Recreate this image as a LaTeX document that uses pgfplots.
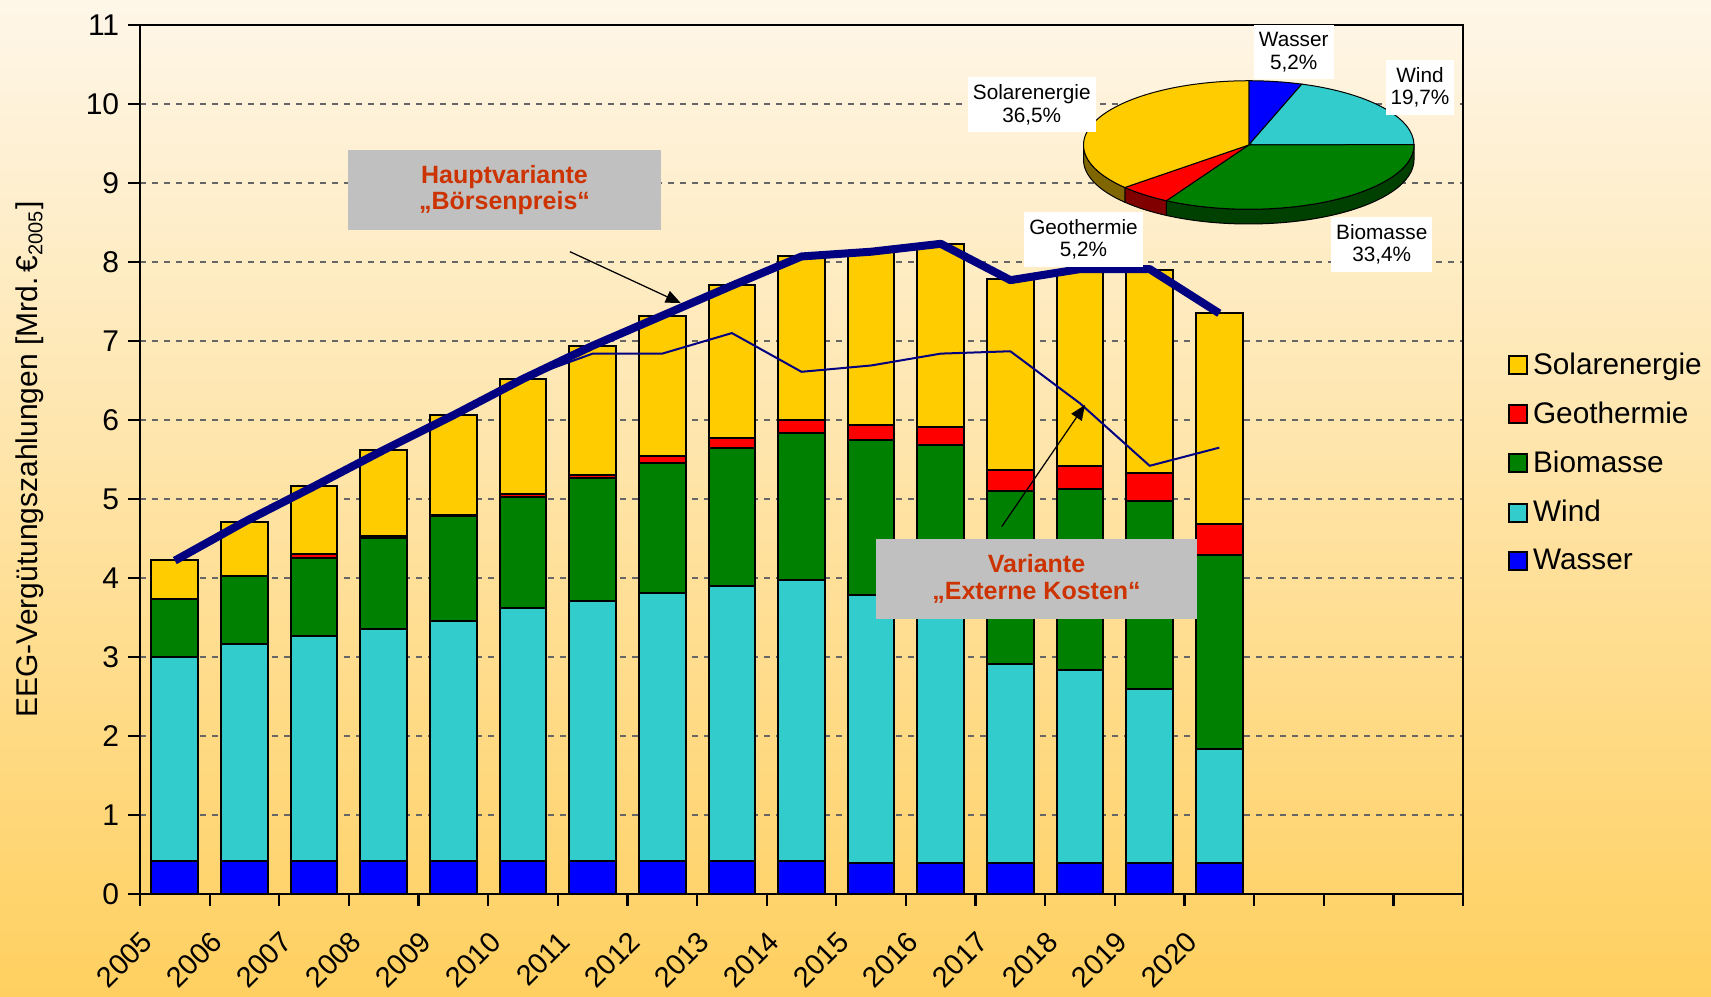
\documentclass[border=0pt]{standalone}
\usepackage{fontspec}
\setmainfont{Liberation Sans}
\usepackage{pgfplots}
\pgfplotsset{compat=1.18}
\usepackage{pgfplotstable}
\usetikzlibrary{arrows.meta}

\definecolor{solar}{RGB}{255,204,0}
\definecolor{geo}{RGB}{255,0,0}
\definecolor{bio}{RGB}{0,128,0}
\definecolor{wind}{RGB}{51,204,204}
\definecolor{wasser}{RGB}{0,0,255}
\definecolor{navyline}{RGB}{0,0,128}
\definecolor{annot}{RGB}{204,51,0}
\definecolor{boxgray}{RGB}{192,192,192}
\definecolor{bgtop}{RGB}{254,246,232}
\definecolor{bgbottom}{RGB}{255,208,96}

% EEG-Verguetung je Sparte, Mrd. EUR (2005), Balken in der Mitte jedes Jahres
\pgfplotstableread{
x     wasser wind  bio   geo   solar
0.5   0.42   2.58  0.74  0.00  0.49
1.5   0.42   2.74  0.87  0.00  0.68
2.5   0.42   2.85  0.98  0.05  0.86
3.5   0.42   2.93  1.16  0.02  1.09
4.5   0.42   3.03  1.33  0.02  1.26
5.5   0.42   3.20  1.41  0.03  1.46
6.5   0.42   3.29  1.55  0.05  1.63
7.5   0.42   3.39  1.64  0.09  1.78
8.5   0.42   3.48  1.74  0.13  1.94
9.5   0.42   3.55  1.87  0.16  2.07
10.5  0.39   3.39  1.97  0.19  2.19
11.5  0.39   3.26  2.03  0.23  2.32
12.5  0.39   2.52  2.19  0.27  2.41
13.5  0.39   2.45  2.29  0.29  2.48
14.5  0.39   2.20  2.38  0.36  2.57
15.5  0.39   1.45  2.45  0.39  2.67
}\eeg

% Hauptvariante "Boersenpreis"
\pgfplotstableread{
x     y
0.5   4.22
1.5   4.71
2.5   5.16
3.5   5.62
4.5   6.06
5.5   6.52
6.5   6.94
7.5   7.32
8.5   7.70
9.5   8.07
10.5  8.13
11.5  8.23
12.5  7.77
13.5  7.91
14.5  7.91
15.5  7.35
}\boerse

% Variante "Externe Kosten"
\pgfplotstableread{
x     y
5.5   6.52
6.5   6.84
7.5   6.84
8.5   7.10
9.5   6.61
10.5  6.69
11.5  6.84
12.5  6.87
13.5  6.21
14.5  5.42
15.5  5.65
}\extern

\pgfplotsset{
  mybar/.style={fill=#1, draw=black, line width=0.8pt,
    legend image code/.code={\draw[fill=#1, draw=black, line width=0.8pt] (0pt,-3.6pt) rectangle (7.2pt,3.6pt);}},
  frame/.style={at={(56pt,40.8pt)}, anchor=south west, scale only axis,
    width=529.2pt, height=347.6pt, xmin=0, xmax=19, ymin=0, ymax=11,
    enlargelimits=false},
}

\begin{document}
\begin{tikzpicture}
\shade[top color=bgtop, bottom color=bgbottom] (0,0) rectangle (684.4pt,398.4pt);
\path[use as bounding box] (0,0) rectangle (684.4pt,398.4pt);

\begin{axis}[
  frame,
  ybar stacked, bar width=0.67,
  xtick={0,...,19},
  xticklabels={2005,2006,2007,2008,2009,2010,2011,2012,2013,2014,2015,2016,2017,2018,2019,2020,,,,},
  ytick={0,...,11},
  tick align=outside, tick pos=left,
  major tick length=4.8pt,
  tick style={black, line width=0.9pt},
  axis line style={black, line width=0.9pt},
  ymajorgrids,
  grid style={dash pattern=on 2.4pt off 2.4pt, color=black!60, line width=0.6pt},
  /pgf/number format/assume math mode=true,
  tick label style={font=\fontsize{12}{14}\selectfont},
  xticklabel style={font=\fontsize{11.5}{13}\selectfont, yshift=-8.5pt, rotate=45, anchor=north east, inner sep=0.5pt},
  ylabel={EEG-Vergütungszahlungen [Mrd.\,€\textsubscript{2005}]},
  ylabel style={font=\fontsize{12}{14}\selectfont, at={(axis description cs:-0.083,0.5)}, anchor=center},
  reverse legend,
  legend cell align=left,
  legend style={at={(1.028,0.635)}, anchor=north west, draw=none, fill=none,
    font=\fontsize{11.9}{13.5}\selectfont, row sep=5.5pt},
]
\addplot[mybar=wasser] table[x=x, y=wasser]{\eeg};
\addplot[mybar=wind]   table[x=x, y=wind]{\eeg};
\addplot[mybar=bio]    table[x=x, y=bio]{\eeg};
\addplot[mybar=geo]    table[x=x, y=geo]{\eeg};
\addplot[mybar=solar]  table[x=x, y=solar]{\eeg};
\legend{Wasser, Wind, Biomasse, Geothermie, Solarenergie}
\end{axis}

\begin{axis}[frame, hide axis, clip=false]
\addplot[navyline, line width=0.8pt, line join=round] table[x=x, y=y]{\extern};
\addplot[navyline, line width=3.2pt, line join=round] table[x=x, y=y]{\boerse};

\draw[-{Triangle[length=6pt,width=5pt]}, line width=0.5pt] (axis cs:6.175,8.13) -- (axis cs:7.766,7.48);
\draw[-{Triangle[length=6pt,width=5pt]}, line width=0.5pt] (axis cs:12.375,4.65) -- (axis cs:13.571,6.19);

\fill[boxgray] (axis cs:2.99,8.40) rectangle (axis cs:7.48,9.42);
\node[annot, font=\fontsize{10}{10.7}\selectfont\bfseries, align=center]
  at (axis cs:5.235,8.91) {Hauptvariante\\„Börsenpreis“};
\fill[boxgray] (axis cs:10.57,3.48) rectangle (axis cs:15.18,4.49);
\node[annot, font=\fontsize{10}{10.7}\selectfont\bfseries, align=center]
  at (axis cs:12.875,3.985) {Variante\\„Externe Kosten“};
\end{axis}

% Kreisdiagramm: Anteile in Prozent
\def\rx{66.1pt}
\def\ry{25.7pt}
\def\d{5.9pt}
\begin{scope}[shift={(499.5pt,340.4pt)}, line width=0.4pt]
  \xdef\s{90}
  \foreach \p/\c in {5.2/wasser, 19.7/wind, 33.4/bio, 5.2/geo, 36.5/solar} {
    \pgfmathsetmacro\e{\s-3.6*\p}
    \pgfmathsetmacro\hi{min(\s,0)}
    \pgfmathsetmacro\lo{max(\e,-180)}
    \pgfmathtruncatemacro\vis{\hi>\lo}
    \ifnum\vis=1
      \filldraw[fill=\c!50!black, draw=black]
        (canvas polar cs:angle=\hi, x radius=\rx, y radius=\ry)
        arc[start angle=\hi, end angle=\lo, x radius=\rx, y radius=\ry]
        -- ++(0,-\d) arc[start angle=\lo, end angle=\hi, x radius=\rx, y radius=\ry] -- cycle;
    \fi
    \xdef\s{\e}
  }
  \xdef\s{90}
  \foreach \p/\c in {5.2/wasser, 19.7/wind, 33.4/bio, 5.2/geo, 36.5/solar} {
    \pgfmathsetmacro\e{\s-3.6*\p}
    \filldraw[fill=\c, draw=black]
      (0,0) -- (canvas polar cs:angle=\s, x radius=\rx, y radius=\ry)
      arc[start angle=\s, end angle=\e, x radius=\rx, y radius=\ry] -- cycle;
    \xdef\s{\e}
  }
\end{scope}

\begin{scope}[every node/.style={fill=white, align=center, inner xsep=2pt, inner ysep=3pt,
    font=\fontsize{8.3}{9}\selectfont}]
  \node at (517.5pt,377.5pt) {Wasser\\5,2\%};
  \node at (568pt,363.4pt) {Wind\\19,7\%};
  \node at (552.7pt,300.7pt) {Biomasse\\33,4\%};
  \node at (433.4pt,302.6pt) {Geothermie\\5,2\%};
  \node at (412.7pt,356.5pt) {Solarenergie\\36,5\%};
\end{scope}
\end{tikzpicture}
\end{document}
